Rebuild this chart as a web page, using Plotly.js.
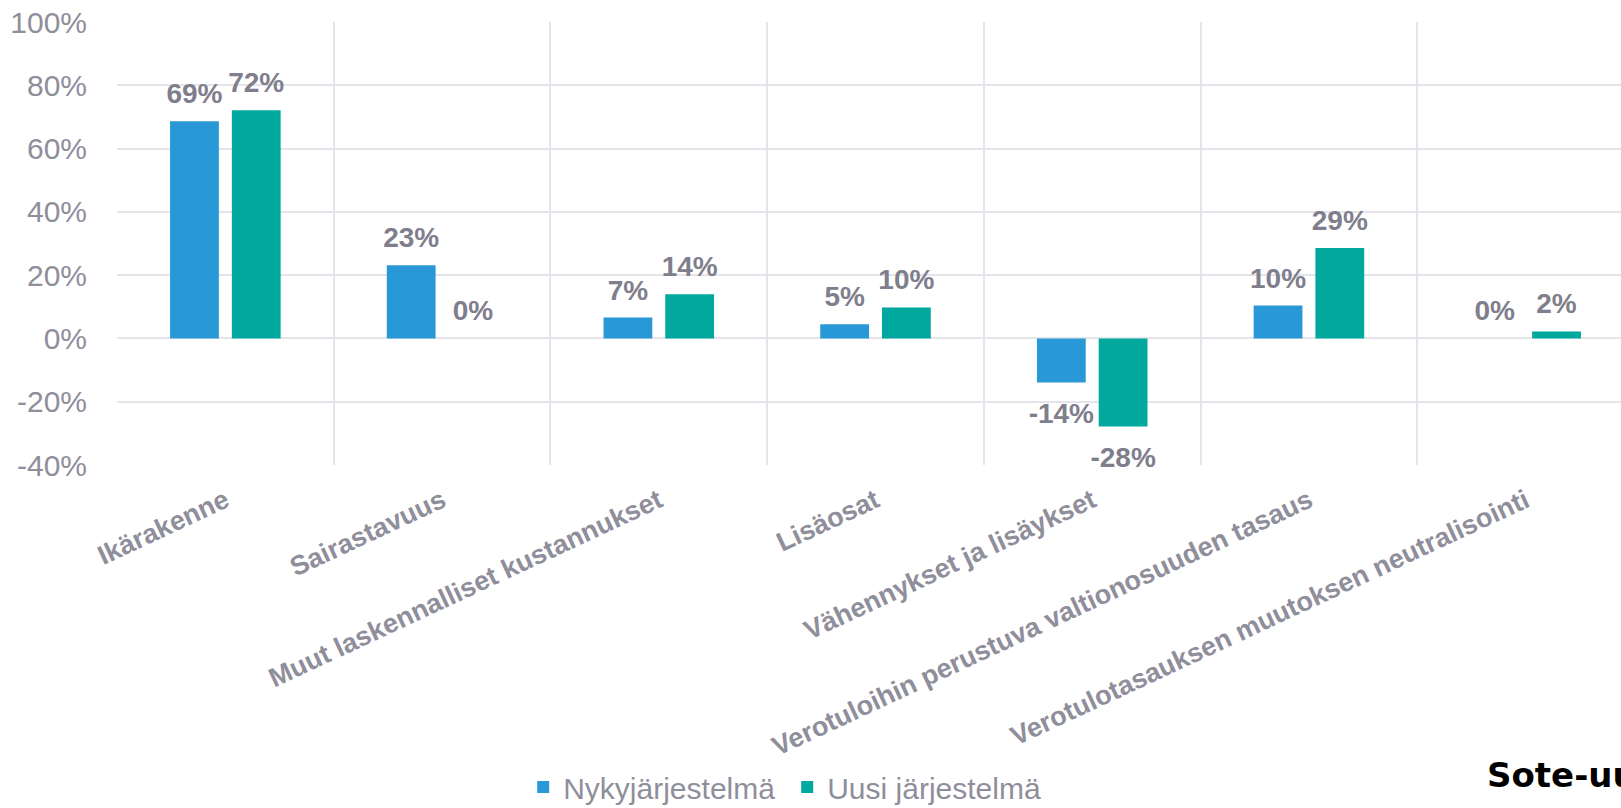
<!DOCTYPE html>
<html>
<head>
<meta charset="utf-8">
<script src="https://cdn.plot.ly/plotly-3.0.1.min.js"></script>
<style>
html, body { margin:0; padding:0; overflow:hidden; background:#fff; }
#chart { width:1640px; height:808px; }
</style>
</head>
<body>
<div id="chart"></div>
<script>
const categories = ['Ikärakenne', 'Sairastavuus', 'Muut laskennalliset kustannukset', 'Lisäosat',
  'Vähennykset ja lisäykset', 'Verotuloihin perustuva valtionosuuden tasaus',
  'Verotulotasauksen muutoksen neutralisointi'];
const seriesNames = ['Nykyjärjestelmä', 'Uusi järjestelmä'];
const nykyValues = [68.6, 23.1, 6.6, 4.5, -13.9, 10.4, 0];
const uusiValues = [72.1, 0, 14.0, 9.8, -27.8, 28.6, 2.2];
const yTickVals = [-40, -20, 0, 20, 40, 60, 80, 100];
const yTickText = yTickVals.map(v => v + '%');

const colors = ['#2898d6', '#00a89d'];
const labelColor = '#7f7e8c';
const axisColor = '#8f8e9b';
const gridColor = '#e4e4ea';
const FONT = 'Liberation Sans, Arial, sans-serif';

const allValues = [nykyValues, uusiValues];
const traces = [];
allValues.forEach((vals, i) => {
  traces.push({
    type: 'bar', name: seriesNames[i], x: categories, y: vals,
    offsetgroup: 'g' + i,
    marker: { color: colors[i], line: { width: 0 } },
    hoverinfo: 'skip'
  });
});
allValues.forEach((vals, i) => {
  traces.push({
    type: 'scatter', mode: 'markers+text', x: categories, y: vals,
    offsetgroup: 'g' + i, showlegend: false, hoverinfo: 'skip',
    marker: { size: vals.map(v => v < 0 ? 29 : 16), color: 'rgba(0,0,0,0)', opacity: 0, line: { width: 0 } },
    texttemplate: '<b>%{y:.0f}%</b>',
    textposition: vals.map(v => v < 0 ? 'bottom center' : 'top center'),
    textfont: { family: FONT, size: 28, color: labelColor },
    cliponaxis: false
  });
});

const layout = {
  width: 1640, height: 808,
  margin: { l: 117, r: 6, t: 22, b: 343 },
  paper_bgcolor: '#fff', plot_bgcolor: '#fff',
  barmode: 'group', bargap: 0.43, bargroupgap: 0.21,
  scattermode: 'group', scattergap: 0.43,
  font: { family: FONT, color: axisColor },
  xaxis: {
    type: 'category', tickson: 'boundaries', showgrid: true, gridcolor: gridColor, gridwidth: 2,
    ticks: '', tickangle: -25, automargin: false, showline: false, zeroline: false,
    ticklabelstandoff: 14,
    tickfont: { family: FONT, size: 27, color: axisColor, weight: 'bold' }
  },
  yaxis: {
    range: [-40, 100], tickvals: yTickVals, ticktext: yTickText, showgrid: true,
    gridcolor: gridColor, gridwidth: 2, zeroline: false, ticks: '', automargin: false,
    ticklabelstandoff: 29,
    tickfont: { family: FONT, size: 30, color: axisColor }
  },
  showlegend: true,
  legend: {
    orientation: 'h', xref: 'container', yref: 'container',
    x: 0.480, xanchor: 'center', y: 0.026, yanchor: 'middle',
    font: { family: FONT, size: 30, color: axisColor },
    itemwidth: 30, entrywidth: 219, bgcolor: 'rgba(0,0,0,0)'
  },
  annotations: [{
    text: '<b>Sote-uudistus</b>', xref: 'paper', yref: 'paper',
    x: 0.9018, y: -0.70, xanchor: 'left', yanchor: 'middle', showarrow: false,
    font: { family: 'DejaVu Sans, sans-serif', size: 34, color: '#000' }
  }]
};

Plotly.newPlot('chart', traces, layout, { staticPlot: true, displayModeBar: false });
</script>
</body>
</html>
